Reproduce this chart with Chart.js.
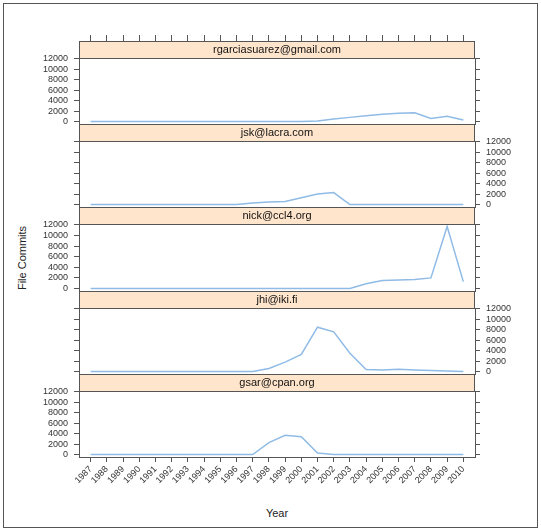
<!DOCTYPE html>
<html><head><meta charset="utf-8">
<script src="https://cdn.jsdelivr.net/npm/chart.js@4.4.1/dist/chart.umd.min.js"></script>
<style>
html,body{margin:0;padding:0;background:#fff;}
#wrap{position:relative;width:541px;height:531px;overflow:hidden;background:#fff;font-family:"Liberation Sans",Arial,sans-serif;}
#frame{position:absolute;left:3px;top:3px;width:533px;height:523px;border:1px solid #555;}
canvas{position:absolute;left:0;}
.lab{position:absolute;color:#222;font-size:11px;white-space:nowrap;}
</style></head><body>
<div id="wrap">
<div id="frame"></div>
<div class="lab" id="ylab" style="left:22px;top:258px;transform:translate(-50%,-50%) rotate(-90deg);">File Commits</div>
<div class="lab" id="xlab" style="left:277px;top:513px;transform:translate(-50%,-50%);">Year</div>
</div>
<script>
// ---- data ----
const years = [1987,1988,1989,1990,1991,1992,1993,1994,1995,1996,1997,1998,1999,2000,2001,2002,2003,2004,2005,2006,2007,2008,2009,2010];
const panelNames = ['rgarciasuarez@gmail.com','jsk@lacra.com','nick@ccl4.org','jhi@iki.fi','gsar@cpan.org'];
const yTickValues = [0,2000,4000,6000,8000,10000,12000];
const rgarciasuarez = [0,0,0,0,0,0,0,0,0,0,0,0,0,0,100,500,800,1100,1400,1600,1700,600,1000,300];
const jsk = [0,0,0,0,0,0,0,0,0,0,300,500,600,1300,2000,2300,0,0,0,0,0,0,0,0];
const nick = [0,0,0,0,0,0,0,0,0,0,0,0,0,0,0,0,0,900,1500,1600,1700,2000,11700,1300];
const jhi = [0,0,0,0,0,0,0,0,0,0,0,600,1800,3300,8500,7600,3500,400,300,450,300,200,100,0];
const gsar = [0,0,0,0,0,0,0,0,0,0,0,2300,3700,3400,300,0,0,0,0,0,0,0,0,0];
const seriesList = [rgarciasuarez, jsk, nick, jhi, gsar];

// ---- layout ----
const FONT = '"Liberation Sans", Arial, sans-serif';
const yMin = -468, yMax = 12168;
const xMin = years[0] - 0.72, xMax = years[years.length-1] + 0.72;
const stripTops = [41,124,207,291,374];
const plotBottoms = [124,207,291,374,457];
const AX = '#555';

const stripPlugin = {
  id: 'strip',
  beforeDraw(chart){
    const t = chart.titleBlock, a = chart.chartArea, ctx = chart.ctx;
    ctx.save(); ctx.fillStyle = '#ffe5cc';
    ctx.fillRect(a.left, t.top, a.right - a.left, t.height);
    ctx.restore();
  },
  afterDraw(chart){
    const t = chart.titleBlock, a = chart.chartArea, ctx = chart.ctx;
    ctx.save(); ctx.strokeStyle = AX; ctx.lineWidth = 1;
    ctx.strokeRect(Math.round(a.left)+0.5, Math.round(t.top)+0.5, Math.round(a.right-a.left)-1, Math.round(t.height));
    ctx.restore();
  }
};

const wrap = document.getElementById('wrap');
const setYearTicks = s => { s.ticks = years.map(v => ({value: v})); };
const setYTicks = s => { s.ticks = yTickValues.map(v => ({value: v})); };

for (let k = 0; k < 5; k++) {
  const isFirst = k === 0, isLast = k === 4;
  const labelLeft = (k % 2 === 0);
  const cTop = stripTops[k] - 12;
  const cH = isLast ? (531 - cTop) : (plotBottoms[k] + 12 - cTop);
  const cv = document.createElement('canvas');
  cv.width = 541; cv.height = cH;
  cv.style.top = cTop + 'px';
  wrap.appendChild(cv);

  const yAxis = (pos, showLabels, w) => ({
    type: 'linear', position: pos, min: yMin, max: yMax,
    afterBuildTicks: setYTicks,
    afterFit: s => { s.width = w; },
    ticks: { display: showLabels, autoSkip: false, color: '#333', font: {family: FONT, size: 9}, padding: 6,
             callback: v => String(v) },
    grid: { drawOnChartArea: false, drawTicks: true, tickLength: 5, color: AX },
    border: { display: true, color: AX }
  });

  const scales = {
    x: {
      type: 'linear', position: 'bottom', min: xMin, max: xMax,
      afterBuildTicks: setYearTicks,
      ticks: { display: isLast, autoSkip: false, minRotation: 45, maxRotation: 45, color: '#333',
               font: {family: FONT, size: 9}, padding: 2, callback: v => String(v) },
      grid: { drawOnChartArea: false, drawTicks: isLast, tickLength: 5, color: AX },
      border: { display: true, color: AX }
    },
    yl: yAxis('left', labelLeft, 79),
    yr: yAxis('right', !labelLeft, 66)
  };
  if (isLast) scales.x.afterFit = s => { s.height = 35; };
  if (isFirst) {
    scales.x2 = {
      type: 'linear', position: 'top', min: xMin, max: xMax, weight: 3000,
      afterBuildTicks: setYearTicks,
      afterFit: s => { s.height = 6; },
      ticks: { display: false },
      grid: { drawOnChartArea: false, drawTicks: true, tickLength: 6, color: AX },
      border: { display: false }
    };
  }

  new Chart(cv, {
    type: 'line',
    data: {
      datasets: [{
        label: panelNames[k],
        data: years.map((yr, i) => ({x: yr, y: seriesList[k][i]})),
        xAxisID: 'x', yAxisID: 'yl',
        borderColor: '#8fbbe6', borderWidth: 1.5,
        pointRadius: 0, tension: 0, fill: false
      }]
    },
    options: {
      responsive: false, animation: false, devicePixelRatio: 1,
      layout: { padding: { left: 0, right: 0, top: isFirst ? 6 : 12, bottom: isLast ? 39 : 12 } },
      plugins: {
        legend: { display: false },
        tooltip: { enabled: false },
        title: { display: true, text: panelNames[k], fullSize: false, position: 'top', color: '#111',
                 font: { family: FONT, size: 11, weight: 'normal', lineHeight: '13px' },
                 padding: { top: 2, bottom: 2 } }
      },
      scales
    },
    plugins: [stripPlugin]
  });
}
</script>
</body></html>
